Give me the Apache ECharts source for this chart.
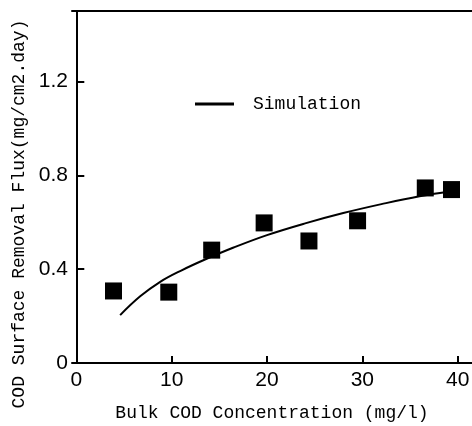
<!DOCTYPE html>
<html>
<head>
<meta charset="utf-8">
<style>
  html, body { margin: 0; padding: 0; background: #fff; }
  #chart { width: 472px; height: 426px; }
</style>
<script src="https://cdn.jsdelivr.net/npm/echarts@6/dist/echarts.min.js"></script>
</head>
<body>
<div id="chart"></div>
<script>
// Measured COD surface removal flux vs bulk COD concentration
const obsX = [3.9, 9.7, 14.2, 19.7, 24.4, 29.5, 36.6, 39.35];
const obsY = [0.307, 0.302, 0.481, 0.597, 0.520, 0.606, 0.746, 0.739];

// Simulated curve
const simX = [4.6, 6.7, 8.8, 11.0, 13.5, 16.5, 20.0, 24.0, 28.0, 32.0, 36.0, 39.0];
const simY = [0.204, 0.284, 0.346, 0.394, 0.441, 0.492, 0.545, 0.595, 0.639, 0.677, 0.711, 0.730];

// Axis tick labels
const xTicks = [0, 10, 20, 30, 40];
const yTicks = [0, 0.4, 0.8, 1.2];

const mono = 'Liberation Mono, DejaVu Sans Mono, monospace';
const sans = 'Liberation Sans Narrow, Liberation Sans, Arial, sans-serif';

const chart = echarts.init(document.getElementById('chart'), null, { renderer: 'canvas' });

const axisLine = { show: true, lineStyle: { color: '#000', width: 2 } };

chart.setOption({
  animation: false,
  backgroundColor: '#fff',
  grid: { left: 72, right: 0, top: 11, bottom: 63, outerBoundsMode: 'none', containLabel: false },
  legend: {
    data: ['Simulation'],
    left: 190,
    top: 90,
    itemWidth: 39,
    itemHeight: 14,
    icon: 'path://M0,6 L39,6 L39,9 L0,9 Z',
    itemStyle: { color: '#000' },
    textStyle: { fontFamily: mono, fontSize: 18, color: '#000', padding: [0, 0, 0, 14] }
  },
  xAxis: [
    {
      type: 'value',
      min: -0.45,
      max: 41.5,
      name: 'Bulk COD Concentration (mg/l)',
      nameLocation: 'middle',
      nameGap: 41,
      nameTextStyle: { fontFamily: mono, fontSize: 18, color: '#000' },
      axisLine: axisLine,
      axisTick: { show: true, inside: true, length: 7, lineStyle: { color: '#000', width: 2 }, customValues: [10, 20, 30, 40] },
      axisLabel: { customValues: xTicks, fontFamily: sans, fontSize: 21, color: '#000', margin: 7 },
      splitLine: { show: false }
    },
    {
      type: 'value',
      position: 'top',
      min: -0.45,
      max: 41.5,
      axisLine: axisLine,
      axisTick: { show: false },
      axisLabel: { show: false },
      splitLine: { show: false }
    }
  ],
  yAxis: {
    type: 'value',
    min: 0,
    max: 1.5,
    name: 'COD Surface Removal Flux(mg/cm2.day)',
    nameLocation: 'middle',
    nameGap: 43,
    nameTextStyle: { fontFamily: mono, fontSize: 18, color: '#000', padding: [0, 54, 0, 0] },
    axisLine: axisLine,
    axisTick: { show: true, inside: true, length: 8, lineStyle: { color: '#000', width: 2 }, customValues: yTicks },
    axisLabel: {
      customValues: yTicks,
      fontFamily: sans,
      fontSize: 21,
      color: '#000',
      margin: 4,
      formatter: v => (v === 0 ? '0' : v.toFixed(1))
    },
    splitLine: { show: false }
  },
  series: [
    {
      name: 'Simulation',
      type: 'line',
      data: simX.map((x, i) => [x, simY[i]]),
      smooth: 0.4,
      showSymbol: false,
      symbol: 'none',
      lineStyle: { color: '#000', width: 2 },
      itemStyle: { color: '#000' },
      z: 2
    },
    {
      name: 'Observed',
      type: 'scatter',
      data: obsX.map((x, i) => [x, obsY[i]]),
      symbol: 'rect',
      symbolSize: 17,
      itemStyle: { color: '#000', opacity: 1 },
      z: 3
    }
  ]
});
</script>
</body>
</html>
